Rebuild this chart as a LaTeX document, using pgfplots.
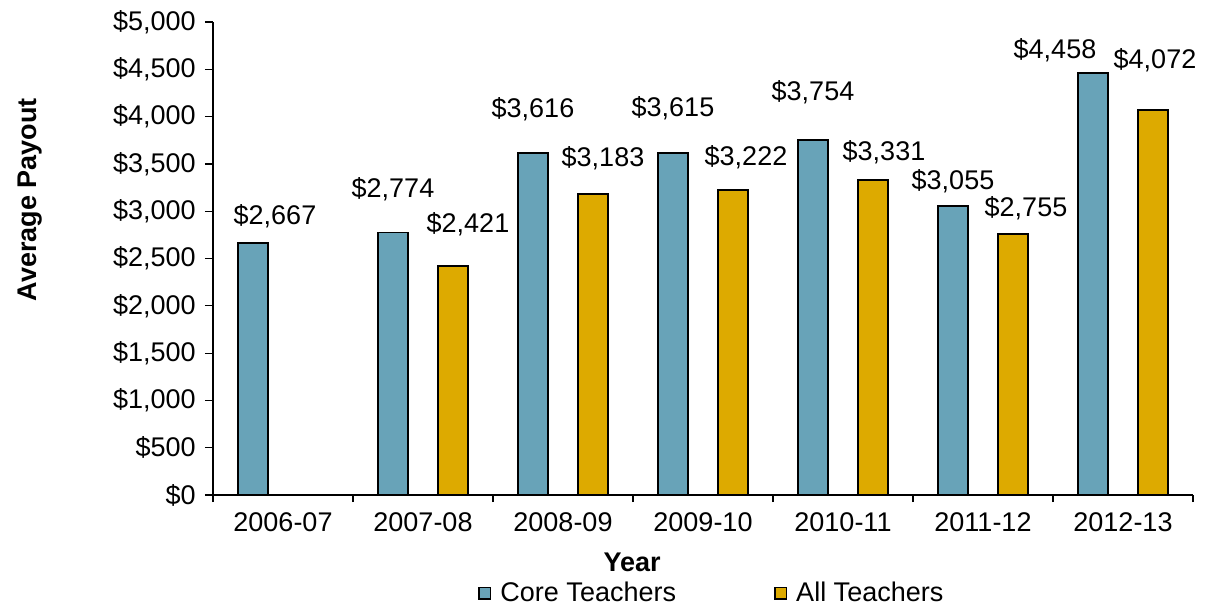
\documentclass[border=0pt]{standalone}
\usepackage{pgfplots}
\pgfplotsset{compat=1.18}
\usepackage{fontspec}
\setmainfont{Liberation Sans}
\definecolor{coreblue}{RGB}{104,163,184}
\definecolor{allgold}{RGB}{221,170,0}
\begin{document}
\fontsize{13.5}{16}\selectfont
\begin{tikzpicture}[font=\fontsize{13.5}{16}\selectfont]
\begin{axis}[
  scale only axis,
  width=490pt, height=236.5pt,
  xmin=-0.5, xmax=6.5, ymin=0, ymax=5000,
  axis lines*=left,
  axis line style={black, line width=0.6pt},
  tick align=outside,
  tick style={black, line width=0.6pt},
  major tick length=4pt,
  minor tick length=3.5pt,
  tick label style={font=\fontsize{13.5}{16}\selectfont},
  label style={font=\fontsize{13.5}{16}\selectfont\bfseries},
  xtick={0,...,6},
  xticklabels={2006-07,2007-08,2008-09,2009-10,2010-11,2011-12,2012-13},
  major x tick style={draw=none},
  minor xtick={-0.5,0.5,...,6.5},
  minor x tick style={draw=black},
  ytick={0,500,...,5000},
  yticklabels={\$0,\$500,{\$1,000},{\$1,500},{\$2,000},{\$2,500},{\$3,000},{\$3,500},{\$4,000},{\$4,500},{\$5,000}},
  ylabel={Average Payout},
  ylabel style={at={(axis description cs:-0.187,0.624)}, anchor=center, rotate=0},
  xlabel={Year},
  xlabel style={at={(axis description cs:0.4276,-0.1430)}, anchor=center},
  ybar, bar width=15pt,
  point meta=y,
  nodes near coords={\$\pgfmathprintnumber[fixed,precision=0,1000 sep={,},assume math mode=true]{\pgfplotspointmeta}},
  visualization depends on={\thisrow{dx} \as \dx},
  visualization depends on={\thisrow{dy} \as \dy},
  nodes near coords style={anchor=center, xshift=\dx pt, yshift=\dy pt, font=\fontsize{13.5}{16}\selectfont, black},
  legend columns=2,
  legend style={draw=none, fill=none, at={(axis description cs:0.510,-0.208)}, anchor=center,
    /tikz/every odd column/.append style={column sep=2.5pt},
    /tikz/every even column/.append style={column sep=47pt},
    font=\fontsize{13.5}{16}\selectfont},
  legend image code/.code={\draw[#1, line width=0.8pt] (0pt,-2.9pt) rectangle (5.8pt,2.9pt);},
]
\addplot[fill=coreblue, draw=black, line width=0.9pt, bar shift=-15pt] table[x=x,y=y] {
x y dx dy
0 2667 11 13
1 2774 0 21.5
2 3616 0 22
3 3615 0 22.5
4 3754 0 24
5 3055 0 12.5
6 4458 -19 11.5
};
\addplot[fill=allgold, draw=black, line width=0.9pt, bar shift=15pt] table[x=x,y=y] {
x y dx dy
1 2421 7.5 21
2 3183 5 18
3 3222 6.5 16.5
4 3331 5.5 14
5 2755 6.5 13
6 4072 1 25
};
\legend{Core Teachers, All Teachers}
\end{axis}
\path (current axis.south west) ++(-106.5pt,-55.5pt) rectangle ++(605.5pt,303pt);
\end{tikzpicture}
\end{document}
